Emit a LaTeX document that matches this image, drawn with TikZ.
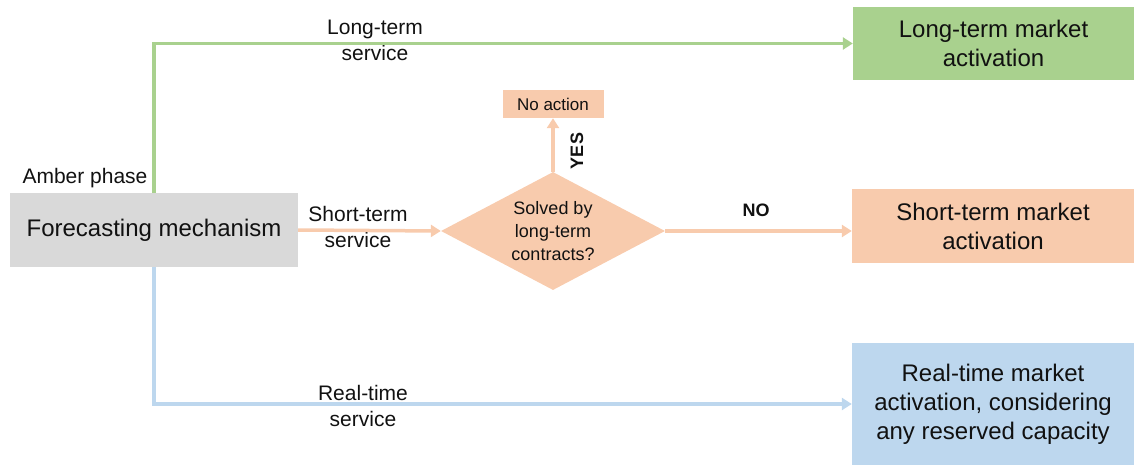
\documentclass[tikz,border=0pt]{standalone}
\usepackage{fontspec}
\setmainfont{Liberation Sans}
\usetikzlibrary{arrows.meta,shapes.geometric}
\definecolor{cgray}{HTML}{D9D9D9}
\definecolor{cgreen}{HTML}{A9D18E}
\definecolor{corange}{HTML}{F8CBAD}
\definecolor{cblue}{HTML}{BDD7EE}
\definecolor{ctext}{HTML}{111111}
\tikzset{
  boxstyle/.style={rectangle, inner sep=0pt, align=center, text=ctext,
    font=\fontsize{24}{29}\selectfont},
  lbl/.style={inner sep=0pt, align=center, text=ctext,
    font=\fontsize{21}{26}\selectfont},
  conn/.style={line width=3.5pt, -{Triangle[length=10pt,width=12pt]}},
}
\begin{document}
\begin{tikzpicture}[x=1pt,y=-1pt]
\useasboundingbox (0,0) rectangle (1134,465);
% boxes
\node[boxstyle, fill=cgray, minimum width=288pt, minimum height=74pt] (fore) at (154,230) {Forecasting mechanism};
\node[boxstyle, fill=cgreen, minimum width=281pt, minimum height=73pt] (lt) at (993.5,43.5) {Long-term market\\activation};
\node[boxstyle, fill=corange, minimum width=282pt, minimum height=74pt] (st) at (993,226) {Short-term market\\activation};
\node[boxstyle, fill=cblue, minimum width=282pt, minimum height=122pt] (rt) at (993,404) {Real-time market\\activation, considering\\any reserved capacity};
\node[boxstyle, fill=corange, minimum width=101pt, minimum height=28pt, font=\fontsize{17}{20}\selectfont] (noact) at (553,104) {No action};
\node[diamond, fill=corange, aspect=1.9, minimum width=224pt, minimum height=118pt, inner sep=0pt, align=center, text=ctext, font=\fontsize{18}{23}\selectfont] (dec) at (553,231) {Solved by\\long-term\\contracts?};
% labels
\node[lbl] (amber) at (85,178) {Amber phase};
\node[lbl] (ltl) at (375,40) {Long-term\\service};
\node[lbl] (stl) at (358,227) {Short-term\\service};
\node[lbl] (rtl) at (363,406) {Real-time\\service};
\node[inner sep=0pt, text=ctext, font=\fontsize{18}{20}\selectfont\bfseries] (nol) at (756,210) {NO};
\node[inner sep=0pt, text=ctext, rotate=90, font=\fontsize{18}{20}\selectfont\bfseries] (yesl) at (577,151) {YES};
% connectors
\draw[conn, cgreen] (fore.north) |- (lt.west);
\draw[conn, cblue] (fore.south) |- (rt.west);
\draw[conn, corange] (fore.east) -- (dec.west);
\draw[conn, corange] (dec.east) -- (dec.east -| st.west);
\draw[conn, corange] (dec.north) -- (noact.south);
\end{tikzpicture}
\end{document}
